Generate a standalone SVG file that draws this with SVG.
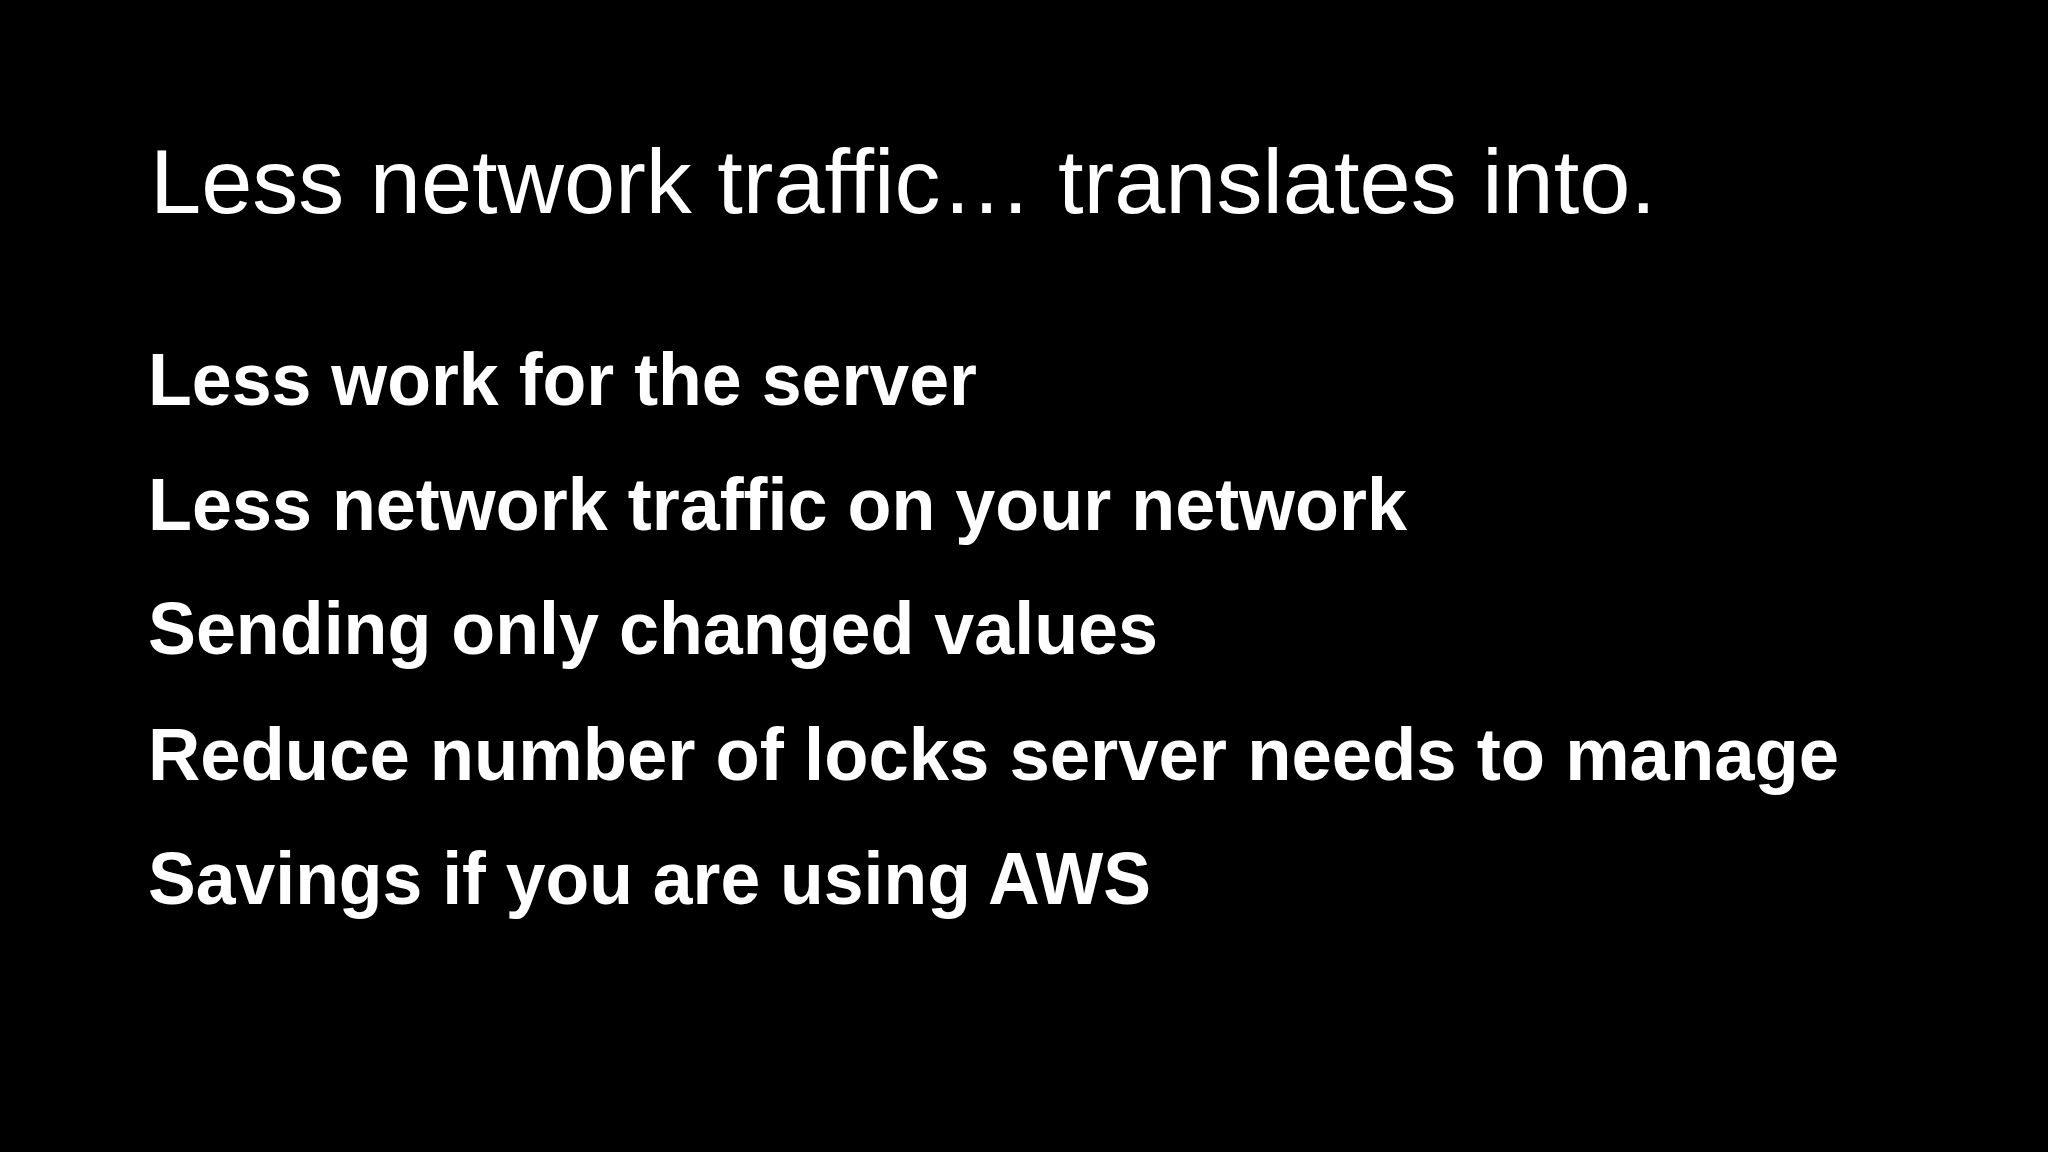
<svg xmlns="http://www.w3.org/2000/svg" width="2048" height="1152" viewBox="0 0 2048 1152">
<style>
.t{font-family:"Liberation Sans",Arial,sans-serif;fill:#fff;font-size:91px}
.b{font-family:"Liberation Sans",Arial,sans-serif;fill:#fff;font-size:74px;font-weight:bold}
</style>
<rect width="2048" height="1152" fill="#000"/>
<g id="title"><text class="t" x="150" y="213" textLength="1506" lengthAdjust="spacingAndGlyphs">Less network traffic… translates into.</text></g>
<g id="bullets">
<text class="b" x="148" y="405" textLength="829" lengthAdjust="spacingAndGlyphs">Less work for the server</text>
<text class="b" x="148" y="530" textLength="1259" lengthAdjust="spacingAndGlyphs">Less network traffic on your network</text>
<text class="b" x="148" y="654" textLength="1010" lengthAdjust="spacingAndGlyphs">Sending only changed values</text>
<text class="b" x="148" y="780" textLength="1691" lengthAdjust="spacingAndGlyphs">Reduce number of locks server needs to manage</text>
<text class="b" x="148" y="904" textLength="1003" lengthAdjust="spacingAndGlyphs">Savings if you are using AWS</text>
</g>
</svg>
